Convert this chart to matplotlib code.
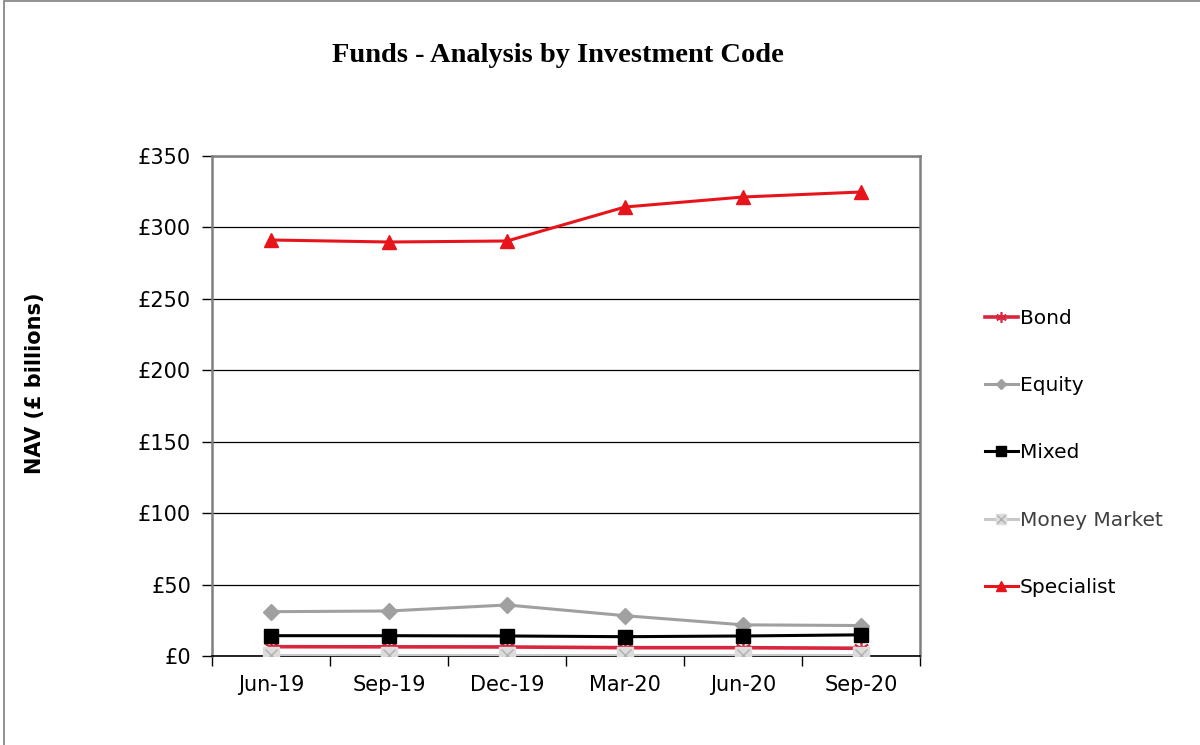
import matplotlib
matplotlib.use("Agg")
import matplotlib.pyplot as plt
from matplotlib.patches import Rectangle
from matplotlib.legend_handler import HandlerTuple

# data (NAV, £ billions)
quarters = ["Jun-19", "Sep-19", "Dec-19", "Mar-20", "Jun-20", "Sep-20"]
bond = [6.5, 6.4, 6.3, 5.8, 5.8, 5.4]
equity = [31.0, 31.5, 35.7, 28.2, 21.8, 21.3]
mixed = [14.2, 14.2, 14.0, 13.5, 14.0, 14.8]
money_market = [0.8, 0.8, 0.8, 0.8, 0.8, 0.8]
specialist = [291.2, 289.8, 290.5, 314.3, 321.3, 324.8]
yticks = [0, 50, 100, 150, 200, 250, 300, 350]

plt.rcParams['font.family'] = ['DejaVu Sans']

fig = plt.figure(figsize=(12, 7.45), dpi=100)
ax = fig.add_axes([0.1767, 0.1195, 0.59, 0.6711])

# outer chart border
fig.patches.append(Rectangle((0.003, -0.01), 1.5, 1.008, transform=fig.transFigure,
                             fill=False, edgecolor="#7f7f7f", linewidth=1.2))

x = list(range(len(quarters)))

l_bond, = ax.plot(x, bond, color="#d7263d", lw=2.6, marker=(6, 2, 0), ms=11,
                  mec="#d7263d", mew=1.2, zorder=4)
l_eq, = ax.plot(x, equity, color="#a0a0a0", lw=2.2, marker="D", ms=8,
                mfc="#a0a0a0", mec="#a0a0a0", zorder=3)
l_mix, = ax.plot(x, mixed, color="black", lw=2.2, marker="s", ms=10, zorder=5)
l_mm, = ax.plot(x, money_market, color="#c8c8c8", lw=2.2, marker="s", ms=11,
                mfc="#dcdcdc", mec="#dcdcdc", zorder=6)
l_mmx, = ax.plot(x, money_market, ls="none", marker="x", ms=9, mec="#b0b0b0",
                 mew=1.0, zorder=7)
l_spec, = ax.plot(x, specialist, color="#e8141c", lw=2.2, marker="^", ms=10,
                  mfc="#e8141c", mec="#e8141c", zorder=3)

ax.set_xlim(-0.5, len(quarters) - 0.5)
ax.set_ylim(0, 350)
ax.set_yticks(yticks)
ax.set_yticklabels([f"£{v}" for v in yticks], fontsize=15)
ax.set_xticks(x)
ax.set_xticklabels(quarters, fontsize=15)
ax.set_xticks([i + 0.5 for i in range(-1, len(quarters))], minor=True)
ax.tick_params(axis="x", which="major", length=0, pad=14)
ax.tick_params(axis="x", which="minor", length=7, width=1, direction="out")
ax.tick_params(axis="y", length=7, width=1, direction="out", pad=8)

ax.grid(axis="y", color="black", lw=0.9)
ax.set_axisbelow(True)
for side in ["top", "right", "left"]:
    ax.spines[side].set_color("#7f7f7f")
    ax.spines[side].set_linewidth(1.8)
ax.spines["bottom"].set_color("black")
ax.spines["bottom"].set_linewidth(1.2)

fig.text(0.029, 0.486, "NAV (£ billions)", rotation=90, ha="center", va="center",
         fontsize=15, fontweight="bold")

fig.text(0.465, 0.926, "Funds - Analysis by Investment Code", ha="center", va="center",
         fontsize=20.5, fontweight="semibold", family="Liberation Serif")

leg = fig.legend([l_bond, l_eq, l_mix, (l_mm, l_mmx), l_spec],
                 ["Bond", "Equity", "Mixed", "Money Market", "Specialist"],
                 handler_map={tuple: HandlerTuple(ndivide=1)},
                 loc="upper left", bbox_to_anchor=(0.806, 0.61), frameon=False,
                 fontsize=14.5, handlelength=1.6, handletextpad=0.1,
                 labelspacing=2.4, markerscale=0.7)
leg.get_texts()[3].set_color("#404040")

fig.savefig("out.png", dpi=100)
